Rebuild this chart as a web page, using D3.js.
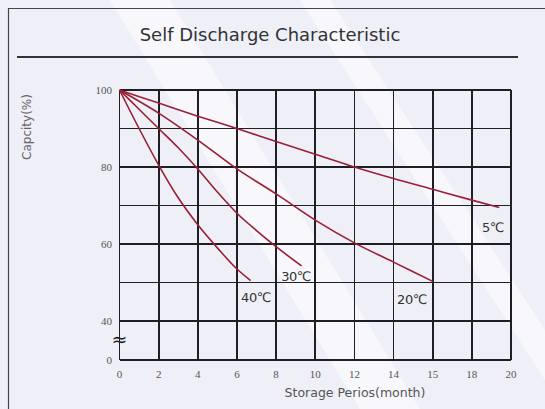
<!DOCTYPE html>
<meta charset="utf-8">
<style>
body { margin: 0; background: #efeff8; }
svg { display: block; }
.grid line { stroke: #1e1e24; stroke-width: 1.7px; shape-rendering: crispEdges; }
.curve { fill: none; stroke: #9a1f33; stroke-width: 1.6px; }
.tick-label { font: 11px "Liberation Serif", serif; fill: #555; }
.curve-label { font: 13px "DejaVu Sans", sans-serif; fill: #333; letter-spacing: -0.5px; }
</style>
<body>
<div id="chart"></div>
<script src="https://d3js.org/d3.v7.min.js"></script>
<script>

// chart values
var xTicks = [0, 2, 4, 6, 8, 10, 12, 14, 16, 18, 20];
var xTickLabels = ["0", "2", "4", "6", "8", "10", "12", "14", "15", "18", "20"];
var yGrid = [0, 40, 50, 60, 70, 80, 90, 100];
var yTickLabels = [100, 80, 60, 40, 0];

var series = ["5℃", "20℃", "30℃", "40℃"];
var curve5 = [[0, 100], [2, 96.6], [4, 93.2], [6, 90], [8, 86.6], [10, 83.3], [12, 80], [14, 77], [16, 74.2], [18, 71.4], [19.4, 69.5]];
var curve20 = [[0, 100], [2, 94], [4, 87], [6, 79.5], [8, 73], [10, 66.2], [12, 60.3], [14, 55.3], [16, 50.3]];
var curve30 = [[0, 100], [1, 95], [2, 90], [3, 85], [4, 79.5], [5, 73.5], [6, 68], [7, 63.5], [8, 59.3], [9.3, 54.3]];
var curve40 = [[0, 100], [1, 90], [2, 80.5], [3, 72], [4, 65], [5, 59], [6, 53.5], [6.7, 50.5]];
var curves = [curve5, curve20, curve30, curve40];

var W = 545, H = 409;
var svg = d3.select("#chart").append("svg")
    .attr("width", W)
    .attr("height", H);

// faint diagonal watermark bands
var bands = [[[110, 0], [170, 0], [420, 409], [360, 409]], [[300, 0], [330, 0], [545, 330], [545, 380]]];
svg.selectAll(".band").data(bands).enter().append("polygon")
    .attr("points", function(d) { return d.map(function(p) { return p.join(","); }).join(" "); })
    .attr("fill", "#f7f7fc");

// frame
svg.append("line").attr("x1", 8).attr("x2", 545).attr("y1", 8.5).attr("y2", 8.5)
    .attr("stroke", "#444").attr("stroke-width", 1.2);
svg.append("line").attr("x1", 8.5).attr("x2", 8.5).attr("y1", 8).attr("y2", H)
    .attr("stroke", "#444").attr("stroke-width", 1.2);

// title
svg.append("text")
    .attr("x", 270).attr("y", 41)
    .attr("text-anchor", "middle")
    .style("font", "18px 'DejaVu Sans', sans-serif")
    .style("fill", "#333")
    .text("Self Discharge Characteristic");
svg.append("line").attr("x1", 17).attr("x2", 518).attr("y1", 57).attr("y2", 57)
    .attr("stroke", "#333").attr("stroke-width", 2);

// scales
var x = d3.scaleLinear().domain([0, 20]).range([119.5, 511]);
var y = d3.scaleLinear().domain([0, 40, 100]).range([360, 321, 90]);

// grid
var grid = svg.append("g").attr("class", "grid");
grid.selectAll(".v").data(xTicks).enter().append("line")
    .attr("x1", function(d) { return x(d); })
    .attr("x2", function(d) { return x(d); })
    .attr("y1", y(100)).attr("y2", y(0));
grid.selectAll(".h").data(yGrid).enter().append("line")
    .attr("x1", x(0)).attr("x2", x(20))
    .attr("y1", function(d) { return y(d); })
    .attr("y2", function(d) { return y(d); });

// axis labels
svg.selectAll(".xt").data(xTicks).enter().append("text")
    .attr("class", "tick-label")
    .attr("x", function(d) { return x(d); })
    .attr("y", 378)
    .attr("text-anchor", "middle")
    .text(function(d, i) { return xTickLabels[i]; });

svg.selectAll(".yt").data(yTickLabels).enter().append("text")
    .attr("class", "tick-label")
    .attr("x", 112)
    .attr("y", function(d) { return y(d) + 3.5; })
    .attr("text-anchor", "end")
    .text(function(d) { return d; });

// axis break mark
svg.append("text")
    .attr("x", x(0)).attr("y", 346)
    .attr("text-anchor", "middle")
    .style("font", "19px 'DejaVu Sans', sans-serif")
    .style("fill", "#222")
    .text("≈");

svg.append("text")
    .attr("transform", "translate(31,127) rotate(-90)")
    .attr("text-anchor", "middle")
    .style("font", "12px 'DejaVu Sans', sans-serif")
    .style("fill", "#666")
    .text("Capcity(%)");

svg.append("text")
    .attr("x", 355).attr("y", 397)
    .attr("text-anchor", "middle")
    .style("font", "12.5px 'DejaVu Sans', sans-serif")
    .style("fill", "#555")
    .text("Storage Perios(month)");

// curves
var line = d3.line()
    .x(function(d) { return x(d[0]); })
    .y(function(d) { return y(d[1]); })
    .curve(d3.curveMonotoneX);

svg.selectAll(".curve").data(curves).enter().append("path")
    .attr("class", "curve")
    .attr("d", line);

// curve labels, placed near each curve's end
var labelOffset = [[-0.32, -6.4], [-1.06, -5.9], [-0.28, -3.9], [0.27, -5.6]];
svg.selectAll(".curve-label").data(curves).enter().append("text")
    .attr("class", "curve-label")
    .attr("x", function(d, i) { var e = d[d.length - 1]; return x(e[0] + labelOffset[i][0]); })
    .attr("y", function(d, i) { var e = d[d.length - 1]; return y(e[1] + labelOffset[i][1]); })
    .attr("text-anchor", "middle")
    .text(function(d, i) { return series[i]; });

</script>
</body>
